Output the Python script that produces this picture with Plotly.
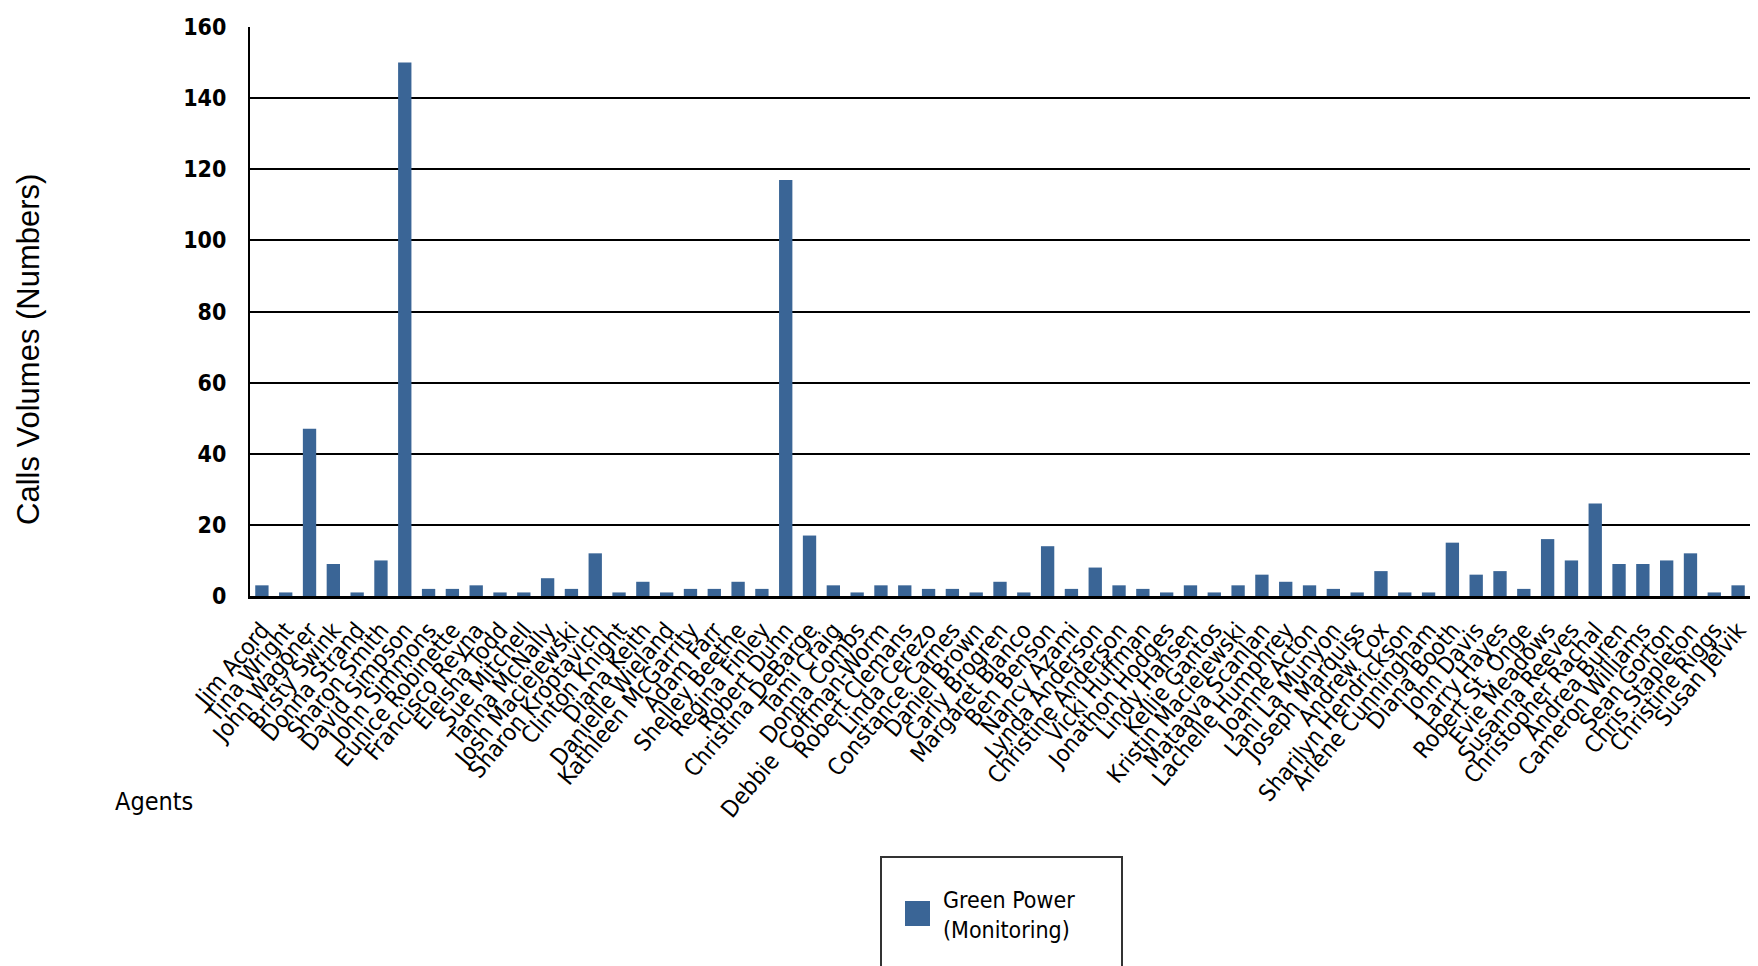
import plotly.graph_objects as go

agents = [
    "Jim Acord", "Tina Wright", "John Wagoner", "Bristy Swink", "Donna Strand",
    "Sharon Smith", "David Simpson", "John Simmons", "Eunice Robinette", "Francisco Reyna",
    "Eleisha Todd", "Sue Mitchell", "Tanna McNally", "Josh Maciejewski", "Sharon Kroptavich",
    "Clinton Knight", "Diana Keith", "Danielle Wieland", "Kathleen McGarrity", "Adam Farr",
    "Shelley Beethe", "Regina Finley", "Robert Dunn", "Christina DeBarge", "Tami Craig",
    "Donna Combs", "Debbie  Coffman-Worm", "Robert Clemans", "Linda Cerezo", "Constance Carnes",
    "Daniel Brown", "Carly Brogren", "Margaret Bianco", "Ben Benson", "Nancy Azami",
    "Lynda Anderson", "Christine Anderson", "Vicki Huffman", "Jonathon Hodges", "Lindy Hansen",
    "Kellie Gantos", "Kristin Maciejewski", "Mataava Scanlan", "Lachelle Humphrey", "Joanne Acton",
    "Lani La Munyon", "Joseph Marquiss", "Andrew Cox", "Sharilyn Hendrickson", "Arlene Cunningham",
    "Diana Booth", "John Davis", "Larry Hayes", "Robert St. Onge", "Evie Meadows",
    "Susanna Reeves", "Christopher Rachal", "Andrea Buren", "Cameron Williams", "Sean Gorton",
    "Chris Stapleton", "Christine Riggs", "Susan Jelvik",
]

calls = [
    3, 1, 47, 9, 1,
    10, 150, 2, 2, 3,
    1, 1, 5, 2, 12,
    1, 4, 1, 2, 2,
    4, 2, 117, 17, 3,
    1, 3, 3, 2, 2,
    1, 4, 1, 14, 2,
    8, 3, 2, 1, 3,
    1, 3, 6, 4, 3,
    2, 1, 7, 1, 1,
    15, 6, 7, 2, 16,
    10, 26, 9, 9, 10,
    12, 1, 3,
]

y_ticks = [0, 20, 40, 60, 80, 100, 120, 140, 160]

series_name = "Green Power<br>(Monitoring)"
bar_color = "#3A6596"

FONT = "DejaVu Sans Condensed, DejaVu Sans"

fig = go.Figure()
fig.add_trace(go.Bar(
    x=agents, y=calls, name=series_name,
    marker=dict(color=bar_color, line=dict(width=0)),
    showlegend=True,
))

W, H = 1758, 966
L, R, T, B = 242, 16, 19, 378
pw, ph = W - L - R, H - T - B


def px_x(x):
    return (x - L) / pw


def px_y(y):
    return (T + ph - y) / ph


fig.update_layout(
    width=W, height=H,
    margin=dict(l=L, r=R, t=T, b=B, autoexpand=False),
    paper_bgcolor="white", plot_bgcolor="white",
    bargap=0.44,
    font=dict(family=FONT, color="black", size=22),
    xaxis=dict(
        tickangle=-50, tickfont=dict(size=23.5, family=FONT),
        tickmode="linear", tick0=0, dtick=1,
        showline=True, linecolor="black", linewidth=3, mirror=False,
        ticks="", ticklabelstandoff=8, showgrid=False,
        range=[-0.5, len(agents) - 0.5],
    ),
    yaxis=dict(
        range=[0, 160], tickvals=y_ticks,
        tickfont=dict(size=23, family=FONT, weight="bold"),
        showgrid=True, gridcolor="black", gridwidth=2,
        showline=True, linecolor="black", linewidth=2, mirror=True,
        ticks="", ticklabelstandoff=17, zeroline=False,
    ),
    showlegend=True,
    legend=dict(
        xref="container", yref="container",
        x=895 / W, xanchor="left",
        y=1 - 870 / H, yanchor="top",
        bgcolor="rgba(0,0,0,0)", borderwidth=0,
        font=dict(size=23, family=FONT),
    ),
    annotations=[
        dict(text="Calls Volumes (Numbers)", textangle=-90,
             xref="paper", yref="paper",
             x=px_x(20), y=px_y(342),
             xanchor="center", yanchor="middle", showarrow=False,
             font=dict(size=31, family="Liberation Sans, Arial")),
        dict(text="Agents", xref="paper", yref="paper",
             x=px_x(146), y=px_y(793),
             xanchor="center", yanchor="middle", showarrow=False,
             font=dict(size=25, family=FONT)),
    ],
    shapes=[
        dict(type="rect", xref="paper", yref="paper",
             x0=px_x(873), x1=px_x(1114),
             y0=px_y(849), y1=px_y(963),
             line=dict(color="#333333", width=2), fillcolor="rgba(0,0,0,0)"),
        dict(type="rect", xref="paper", yref="paper", layer="above",
             x0=px_x(897), x1=px_x(922),
             y0=px_y(893), y1=px_y(918),
             line=dict(width=0), fillcolor=bar_color),
    ],
)

fig.write_html("out.html")
